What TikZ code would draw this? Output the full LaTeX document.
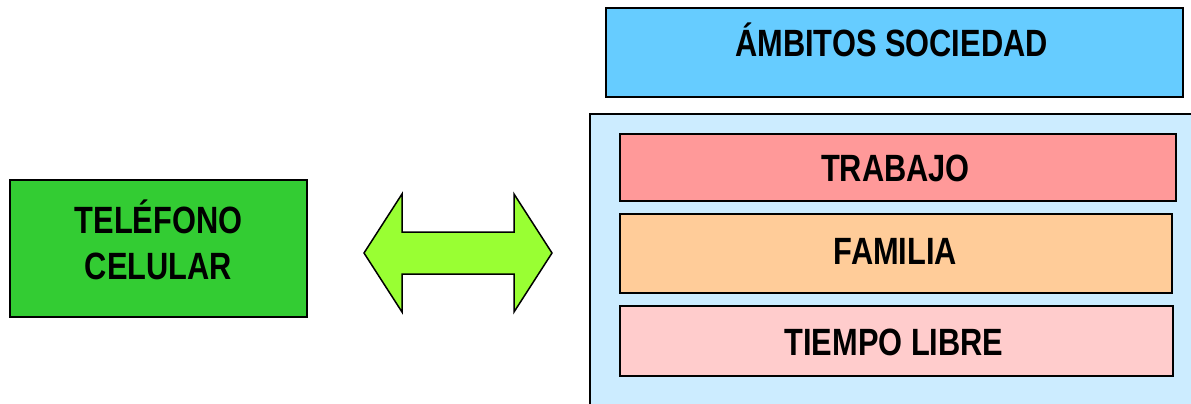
\documentclass[tikz,border=0pt]{standalone}
\usepackage{fontspec}
\setmainfont{Liberation Sans}[FakeStretch=0.81]
\usetikzlibrary{calc}
\definecolor{phonegreen}{HTML}{33CC33}
\definecolor{arrowgreen}{HTML}{99FF33}
\definecolor{skyblue}{HTML}{66CCFF}
\definecolor{paleblue}{HTML}{CCECFF}
\definecolor{salmon}{HTML}{FF9999}
\definecolor{peach}{HTML}{FFCC99}
\definecolor{blush}{HTML}{FFCCCC}
\tikzset{
  box/.style={draw=black, line width=2pt, rectangle, inner sep=0pt},
  lbl/.style={inner sep=0pt, anchor=base, font=\fontsize{38}{46}\selectfont\bfseries},
  panel/.style={draw=black, line width=2pt, fill=paleblue},
}
\begin{document}
\begin{tikzpicture}[x=1pt,y=-1pt]
  \useasboundingbox (0,0) rectangle (1191,404);
  \clip (0,0) rectangle (1191,404);

  % mobile phone box
  \node[box, fill=phonegreen, minimum width=297pt, minimum height=137pt]
    (phone) at (158.5,248.5) {};
  \node[lbl] (phone1) at (158.5,233.3) {TELÉFONO};
  \node[lbl] (phone2) at (158.5,279) {CELULAR};

  % two-headed arrow
  \coordinate (arr) at (458,253);
  \draw[line width=1.5pt, fill=arrowgreen, line join=miter]
    ($(arr)+(-94,0)$) -- ++(38,-59) -- ++(0,38) -- ++(112,0) -- ++(0,-38)
    -- ++(38,59) -- ++(-38,59) -- ++(0,-38) -- ++(-112,0) -- ++(0,38) -- cycle;

  % society title
  \node[box, fill=skyblue, minimum width=577pt, minimum height=89pt]
    (title) at (894.5,52.5) {};
  \node[lbl] (titletext) at (891.5,57) {ÁMBITOS SOCIEDAD};

  % panel holding the areas
  \draw[panel] (590,114) rectangle (1200,420);
  \node[box, fill=salmon, minimum width=556pt, minimum height=67pt]
    (work) at (898,167.5) {};
  \node[lbl] (worktext) at (895.4,181.7) {TRABAJO};
  \node[box, fill=peach, minimum width=552pt, minimum height=79pt]
    (family) at (896,253.5) {};
  \node[lbl] (familytext) at (895.5,264) {FAMILIA};
  \node[box, fill=blush, minimum width=553pt, minimum height=70pt]
    (leisure) at (896.5,341) {};
  \node[lbl] (leisuretext) at (894,355.3) {TIEMPO LIBRE};
\end{tikzpicture}
\end{document}
